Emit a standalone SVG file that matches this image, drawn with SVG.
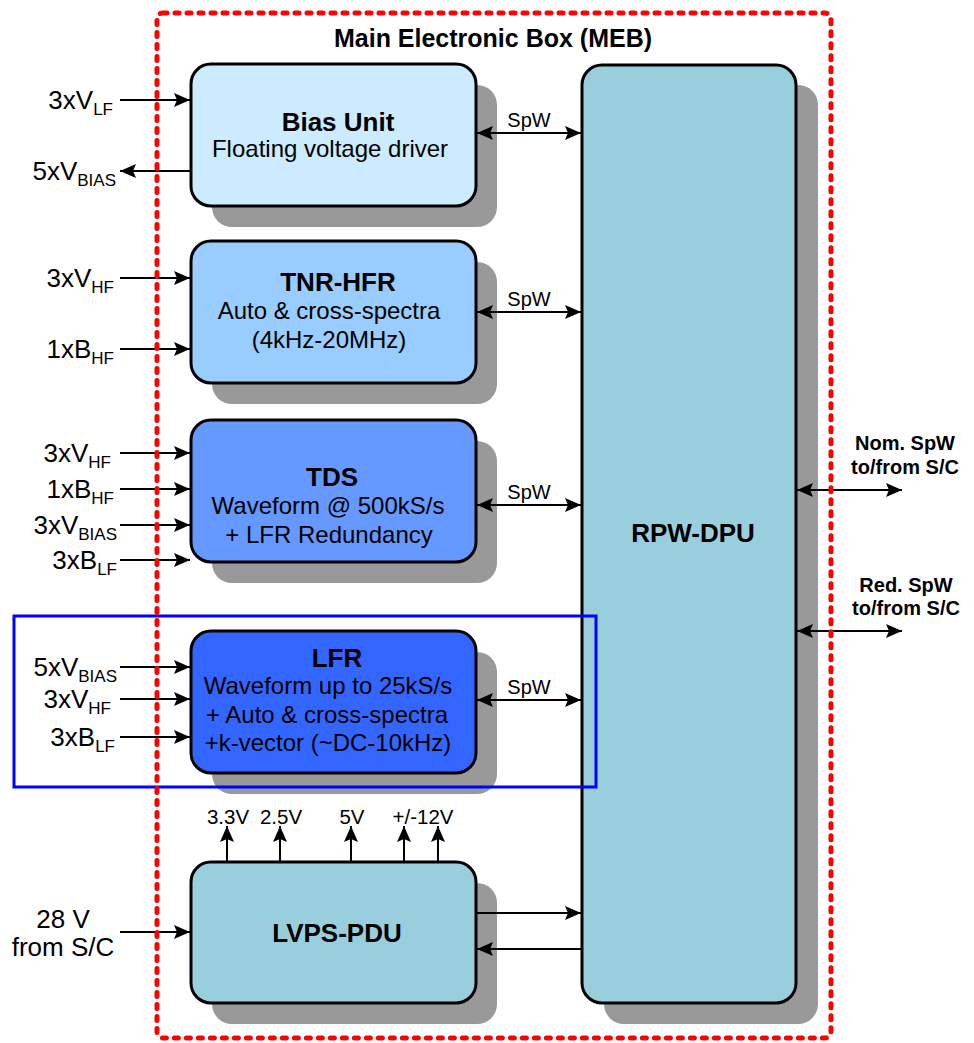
<svg xmlns="http://www.w3.org/2000/svg" width="974" height="1043" viewBox="0 0 974 1043">
<defs>
<marker id="ah" markerUnits="userSpaceOnUse" markerWidth="18" markerHeight="14" refX="16" refY="7" orient="auto-start-reverse" viewBox="0 0 18 14">
<path d="M0,0 L16,7 L0,14 L3,7 z" fill="#000"/>
</marker>
</defs>
<style>
.box{stroke:#000;stroke-width:3}
.sh{fill:#999}
.t{font-family:"Liberation Sans",Arial,sans-serif;font-size:24px;fill:#000;text-anchor:middle}
.tb{font-family:"Liberation Sans",Arial,sans-serif;font-size:26px;font-weight:bold;fill:#000;text-anchor:middle}
.lbl{font-family:"Liberation Sans",Arial,sans-serif;font-size:26px;fill:#000;text-anchor:end}
.sub{font-size:17px}
.sp{font-family:"Liberation Sans",Arial,sans-serif;font-size:20px;fill:#000;text-anchor:middle}
.rb{font-family:"Liberation Sans",Arial,sans-serif;font-size:20px;font-weight:bold;fill:#000;text-anchor:middle}
.v{font-family:"Liberation Sans",Arial,sans-serif;font-size:20.5px;fill:#000;text-anchor:middle}
.c{stroke:#000;stroke-width:2;fill:none}
.a{marker-end:url(#ah)}
.d{marker-start:url(#ah);marker-end:url(#ah)}
</style>

<!-- shadows -->
<g id="shadows">
<rect class="sh" x="212" y="85" width="285" height="142" rx="20"/>
<rect class="sh" x="212" y="262" width="285" height="142" rx="20"/>
<rect class="sh" x="212" y="441" width="285" height="142" rx="20"/>
<rect class="sh" x="212" y="652" width="285" height="142" rx="20"/>
<rect class="sh" x="212" y="883" width="285" height="141" rx="20"/>
<rect class="sh" x="604" y="85" width="214" height="939" rx="20"/>
</g>

<g id="bias">
<rect class="box" x="191" y="64" width="285" height="142" rx="20" fill="#CCEBFF"/>
<text class="tb" x="338" y="131">Bias Unit</text>
<text class="t" x="330" y="157">Floating voltage driver</text>
</g>
<g id="tnr">
<rect class="box" x="191" y="241" width="285" height="142" rx="20" fill="#99CCFF"/>
<text class="tb" x="338" y="291">TNR-HFR</text>
<text class="t" x="329" y="319">Auto &amp; cross-spectra</text>
<text class="t" x="329" y="348">(4kHz-20MHz)</text>
</g>
<g id="tds">
<rect class="box" x="191" y="420" width="285" height="142" rx="20" fill="#6699FF"/>
<text class="tb" x="332" y="486">TDS</text>
<text class="t" x="328" y="514">Waveform @ 500kS/s</text>
<text class="t" x="329" y="543">+ LFR Redundancy</text>
</g>
<g id="lfr">
<rect class="box" x="191" y="631" width="285" height="142" rx="20" fill="#3366FF"/>
<text class="tb" x="337" y="667">LFR</text>
<text class="t" x="328" y="694">Waveform up to 25kS/s</text>
<text class="t" x="327" y="723">+ Auto &amp; cross-spectra</text>
<text class="t" x="328" y="751">+k-vector (~DC-10kHz)</text>
</g>
<g id="lvps">
<rect class="box" x="191" y="862" width="285" height="141" rx="20" fill="#99CFDC"/>
<text class="tb" x="337" y="942">LVPS-PDU</text>
</g>
<g id="dpu">
<rect class="box" x="582" y="65" width="214" height="938" rx="20" fill="#99CFDC"/>
<text class="tb" x="693" y="542">RPW-DPU</text>
</g>

<g id="connectors">
<!-- inputs -->
<line class="c a" x1="120" y1="100" x2="190" y2="100"/>
<line class="c a" x1="190" y1="171" x2="120" y2="171"/>
<line class="c a" x1="120" y1="278" x2="190" y2="278"/>
<line class="c a" x1="120" y1="349" x2="190" y2="349"/>
<line class="c a" x1="120" y1="453" x2="190" y2="453"/>
<line class="c a" x1="120" y1="489" x2="190" y2="489"/>
<line class="c a" x1="120" y1="525" x2="190" y2="525"/>
<line class="c a" x1="120" y1="560" x2="190" y2="560"/>
<line class="c a" x1="120" y1="667" x2="190" y2="667"/>
<line class="c a" x1="120" y1="699" x2="190" y2="699"/>
<line class="c a" x1="120" y1="737" x2="190" y2="737"/>
<line class="c a" x1="120" y1="932" x2="190" y2="932"/>
<!-- SpW -->
<line class="c d" x1="477" y1="133" x2="581" y2="133"/>
<line class="c d" x1="477" y1="312" x2="581" y2="312"/>
<line class="c d" x1="477" y1="505" x2="581" y2="505"/>
<line class="c d" x1="477" y1="700" x2="581" y2="700"/>
<!-- LVPS-DPU -->
<line class="c a" x1="477" y1="913" x2="581" y2="913"/>
<line class="c a" x1="581" y1="949" x2="477" y2="949"/>
<!-- external SpW -->
<line class="c d" x1="797" y1="490" x2="902" y2="490"/>
<line class="c d" x1="797" y1="631" x2="902" y2="631"/>
<!-- voltages -->
<line class="c a" x1="227" y1="861" x2="227" y2="826"/>
<line class="c a" x1="280" y1="861" x2="280" y2="826"/>
<line class="c a" x1="351" y1="861" x2="351" y2="826"/>
<line class="c a" x1="404" y1="861" x2="404" y2="826"/>
<line class="c a" x1="438" y1="861" x2="438" y2="826"/>
</g>

<g id="labels">
<text class="lbl" x="113" y="109">3xV<tspan class="sub" dy="6">LF</tspan></text>
<text class="lbl" x="116" y="180">5xV<tspan class="sub" dy="6">BIAS</tspan></text>
<text class="lbl" x="114" y="287">3xV<tspan class="sub" dy="6">HF</tspan></text>
<text class="lbl" x="114" y="358">1xB<tspan class="sub" dy="6">HF</tspan></text>
<text class="lbl" x="111" y="462">3xV<tspan class="sub" dy="6">HF</tspan></text>
<text class="lbl" x="114" y="498">1xB<tspan class="sub" dy="6">HF</tspan></text>
<text class="lbl" x="117" y="534">3xV<tspan class="sub" dy="6">BIAS</tspan></text>
<text class="lbl" x="117" y="569">3xB<tspan class="sub" dy="6">LF</tspan></text>
<text class="lbl" x="117" y="676">5xV<tspan class="sub" dy="6">BIAS</tspan></text>
<text class="lbl" x="111" y="708">3xV<tspan class="sub" dy="6">HF</tspan></text>
<text class="lbl" x="115" y="746">3xB<tspan class="sub" dy="6">LF</tspan></text>
<text class="lbl" x="63" y="928" style="text-anchor:middle">28 V</text>
<text class="lbl" x="63" y="956" style="text-anchor:middle">from S/C</text>
<text class="sp" x="529" y="127">SpW</text>
<text class="sp" x="529" y="306">SpW</text>
<text class="sp" x="529" y="499">SpW</text>
<text class="sp" x="529" y="694">SpW</text>
<text class="rb" x="905" y="450">Nom. SpW</text>
<text class="rb" x="905" y="474">to/from S/C</text>
<text class="rb" x="906" y="592">Red. SpW</text>
<text class="rb" x="906" y="615">to/from S/C</text>
<text class="v" x="228" y="824">3.3V</text>
<text class="v" x="281" y="824">2.5V</text>
<text class="v" x="352" y="824">5V</text>
<text class="v" x="423" y="824">+/-12V</text>
<text class="tb" x="493" y="47" style="font-size:25px">Main Electronic Box (MEB)</text>
</g>

<rect id="lfr-highlight" x="14" y="616" width="582" height="171" fill="none" stroke="#0000FF" stroke-width="3"/>
<rect id="meb" x="157" y="13" width="674" height="1025" rx="6" fill="none" stroke="#FF0000" stroke-width="5" stroke-dasharray="4 8" stroke-linecap="round"/>
</svg>
